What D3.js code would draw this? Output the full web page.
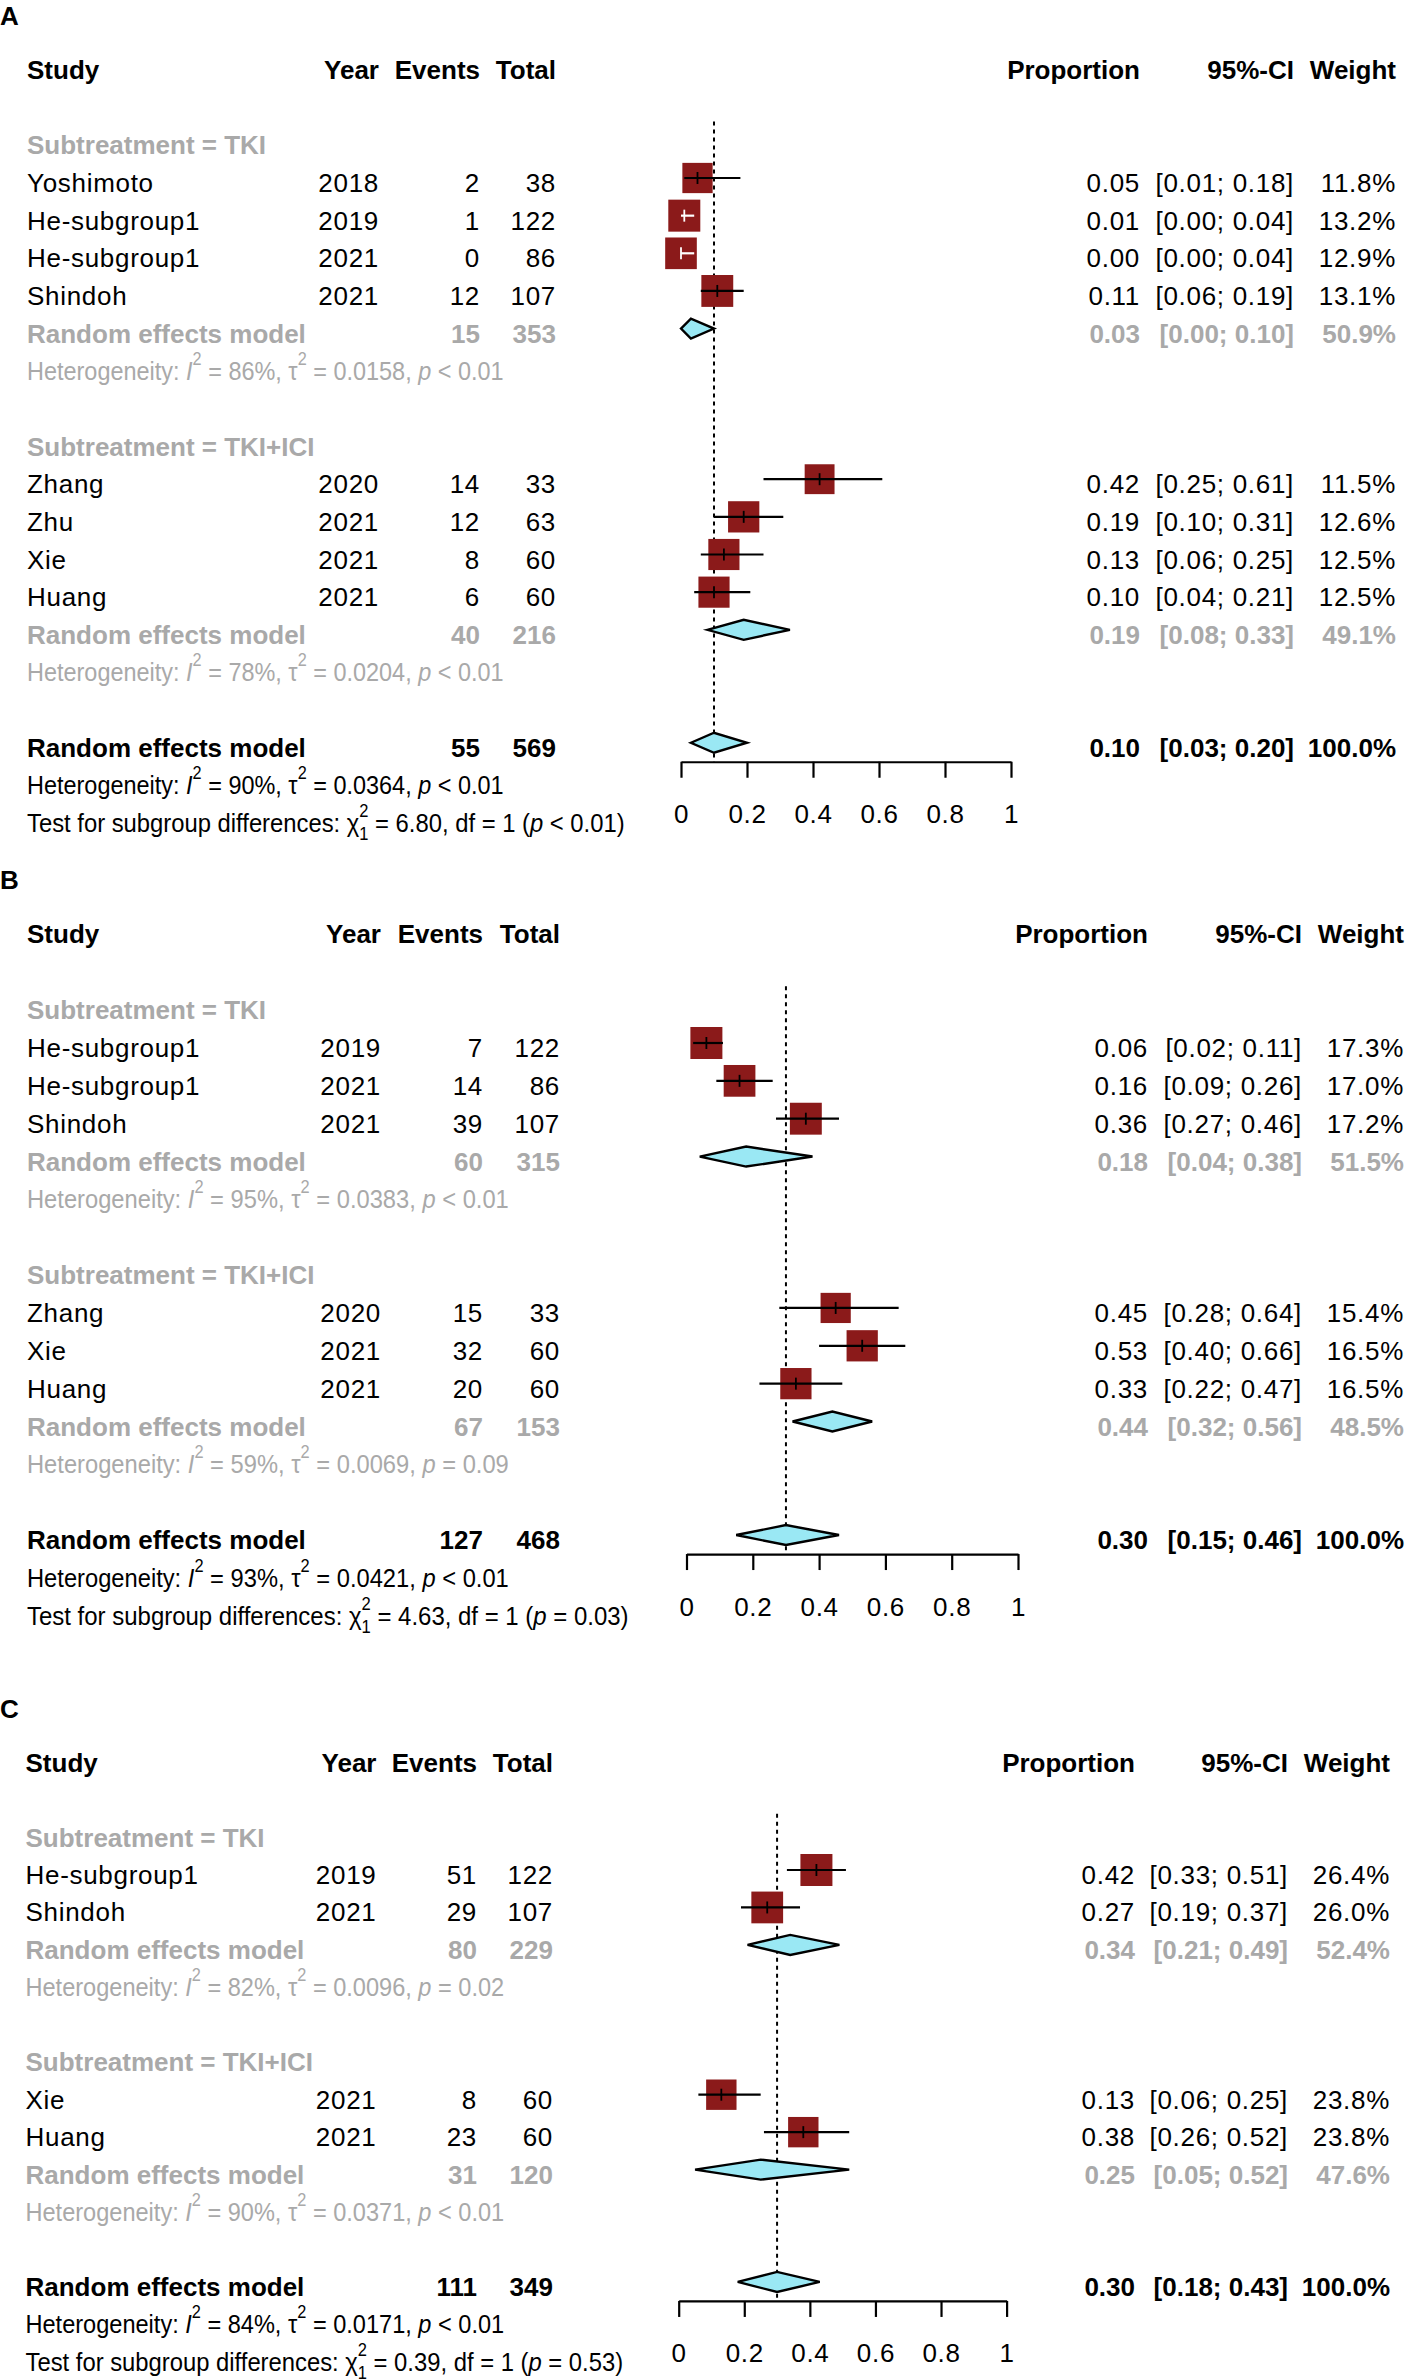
<!DOCTYPE html>
<html>
<head>
<meta charset="utf-8">
<script src="https://cdn.jsdelivr.net/npm/d3@7"></script>
<style>
  body { margin: 0; background: #fff; }
  svg text { font-family: "Liberation Sans", Arial, Helvetica, sans-serif; font-size: 26px; }
</style>
</head>
<body>
<div id="forest"></div>
<script>
/*--- datos panel A ---*/
let studiesA = ["Yoshimoto", "He-subgroup1", "He-subgroup1", "Shindoh", "Zhang", "Zhu", "Xie", "Huang"];
let groupA   = [0, 0, 0, 0, 1, 1, 1, 1];
let yearsA   = [2018, 2019, 2021, 2021, 2020, 2021, 2021, 2021];
let eventsA  = [2, 1, 0, 12, 14, 12, 8, 6];
let totalsA  = [38, 122, 86, 107, 33, 63, 60, 60];
let propA    = [0.05, 0.01, 0.00, 0.11, 0.42, 0.19, 0.13, 0.10];
let lowA     = [0.01, 0.00, 0.00, 0.06, 0.25, 0.10, 0.06, 0.04];
let highA    = [0.18, 0.04, 0.04, 0.19, 0.61, 0.31, 0.25, 0.21];
let weightA  = [11.8, 13.2, 12.9, 13.1, 11.5, 12.6, 12.5, 12.5];
let subEventsA = [15, 40];
let subTotalsA = [353, 216];
let subPropA   = [0.03, 0.19];
let subLowA    = [0.00, 0.08];
let subHighA   = [0.10, 0.33];
let subWeightA = [50.9, 49.1];
let subHetA    = [["86", "0.0158", "<", "0.01"], ["78", "0.0204", "<", "0.01"]];
let overallA   = [55, 569, 0.10, 0.03, 0.20, 100.0];
let overallHetA = ["90", "0.0364", "<", "0.01"];
let testA      = ["6.80", "1", "<", "0.01"];

/*--- datos panel B ---*/
let studiesB = ["He-subgroup1", "He-subgroup1", "Shindoh", "Zhang", "Xie", "Huang"];
let groupB   = [0, 0, 0, 1, 1, 1];
let yearsB   = [2019, 2021, 2021, 2020, 2021, 2021];
let eventsB  = [7, 14, 39, 15, 32, 20];
let totalsB  = [122, 86, 107, 33, 60, 60];
let propB    = [0.06, 0.16, 0.36, 0.45, 0.53, 0.33];
let lowB     = [0.02, 0.09, 0.27, 0.28, 0.40, 0.22];
let highB    = [0.11, 0.26, 0.46, 0.64, 0.66, 0.47];
let weightB  = [17.3, 17.0, 17.2, 15.4, 16.5, 16.5];
let subEventsB = [60, 67];
let subTotalsB = [315, 153];
let subPropB   = [0.18, 0.44];
let subLowB    = [0.04, 0.32];
let subHighB   = [0.38, 0.56];
let subWeightB = [51.5, 48.5];
let subHetB    = [["95", "0.0383", "<", "0.01"], ["59", "0.0069", "=", "0.09"]];
let overallB   = [127, 468, 0.30, 0.15, 0.46, 100.0];
let overallHetB = ["93", "0.0421", "<", "0.01"];
let testB      = ["4.63", "1", "=", "0.03"];

/*--- datos panel C ---*/
let studiesC = ["He-subgroup1", "Shindoh", "Xie", "Huang"];
let groupC   = [0, 0, 1, 1];
let yearsC   = [2019, 2021, 2021, 2021];
let eventsC  = [51, 29, 8, 23];
let totalsC  = [122, 107, 60, 60];
let propC    = [0.42, 0.27, 0.13, 0.38];
let lowC     = [0.33, 0.19, 0.06, 0.26];
let highC    = [0.51, 0.37, 0.25, 0.52];
let weightC  = [26.4, 26.0, 23.8, 23.8];
let subEventsC = [80, 31];
let subTotalsC = [229, 120];
let subPropC   = [0.34, 0.25];
let subLowC    = [0.21, 0.05];
let subHighC   = [0.49, 0.52];
let subWeightC = [52.4, 47.6];
let subHetC    = [["82", "0.0096", "=", "0.02"], ["90", "0.0371", "<", "0.01"]];
let overallC   = [111, 349, 0.30, 0.18, 0.43, 100.0];
let overallHetC = ["84", "0.0171", "<", "0.01"];
let testC      = ["0.39", "1", "=", "0.53"];

let subLabels  = ["TKI", "TKI+ICI"];
let tickValues = [0, 0.2, 0.4, 0.6, 0.8, 1];

/*--- Variables tecnicas ---*/
let width = 1407, height = 2379;
let gris = "#a9a9a9";
let rojo = "#8b1a1a";
let cian = "#9ae8f4";
let fmt2 = d3.format(".2f");
let fmt1 = d3.format(".1f");

// cada panel: datos + columnas (la primera fila de estudio es k = 3)
let panels = [
  { label: "A", studies: studiesA, group: groupA, years: yearsA, events: eventsA, totals: totalsA,
    prop: propA, low: lowA, high: highA, weight: weightA,
    sEv: subEventsA, sTot: subTotalsA, sProp: subPropA, sLow: subLowA, sHigh: subHighA, sW: subWeightA, sHet: subHetA,
    all: overallA, allHet: overallHetA, test: testA,
    y3: 178, rowH: 37.65, hetW: 477, testW: 607,
    col: { study: 27, year: 379, events: 480, total: 556, prop: 1140, ci: 1294, weight: 1396, ax0: 681, ax1: 1011 } },
  { label: "B", studies: studiesB, group: groupB, years: yearsB, events: eventsB, totals: totalsB,
    prop: propB, low: lowB, high: highB, weight: weightB,
    sEv: subEventsB, sTot: subTotalsB, sProp: subPropB, sLow: subLowB, sHigh: subHighB, sW: subWeightB, sHet: subHetB,
    all: overallB, allHet: overallHetB, test: testB,
    y3: 1043, rowH: 37.85, hetW: 482, testW: 611,
    col: { study: 27, year: 381, events: 483, total: 560, prop: 1148, ci: 1302, weight: 1404, ax0: 686.5, ax1: 1018 } },
  { label: "C", studies: studiesC, group: groupC, years: yearsC, events: eventsC, totals: totalsC,
    prop: propC, low: lowC, high: highC, weight: weightC,
    sEv: subEventsC, sTot: subTotalsC, sProp: subPropC, sLow: subLowC, sHigh: subHighC, sW: subWeightC, sHet: subHetC,
    all: overallC, allHet: overallHetC, test: testC,
    y3: 1870, rowH: 37.45, hetW: 479, testW: 607,
    col: { study: 25.5, year: 376.5, events: 477, total: 553, prop: 1135, ci: 1288, weight: 1390, ax0: 678.7, ax1: 1006.6 } }
];

let svg = d3.select("#forest").append("svg")
  .attr("width", width).attr("height", height);
svg.append("rect").attr("width", width).attr("height", height).attr("fill", "#fff");

/*--- funciones de texto ---*/
function txt(g, x, y, s, anchor, color, bold) {
  return g.append("text")
    .attr("x", x).attr("y", y)
    .attr("text-anchor", anchor || "start")
    .attr("fill", color || "#000")
    .attr("font-weight", bold ? "bold" : "normal")
    .attr("letter-spacing", bold ? null : "0.7px")
    .text(s);
}

// estrecha la linea (como en la figura) sin apretar las letras
function ajustar(t, x, y, objetivo) {
  let natural = t.node().getComputedTextLength();
  let s = objetivo / natural;
  t.attr("transform", "translate(" + x + "," + y + ") scale(" + s.toFixed(4) + ",1)");
}

function hetLine(g, x, y, h, color, objetivo) {
  let t = g.append("text").attr("x", 0).attr("y", 0).attr("fill", color);
  t.append("tspan").text("Heterogeneity: ");
  t.append("tspan").attr("font-style", "italic").text("I");
  t.append("tspan").attr("font-size", 18).attr("dy", -15).text("2");
  t.append("tspan").attr("dy", 15).text(" = " + h[0] + "%, \u03c4");
  t.append("tspan").attr("font-size", 18).attr("dy", -15).text("2");
  t.append("tspan").attr("dy", 15).text(" = " + h[1] + ", ");
  t.append("tspan").attr("font-style", "italic").text("p");
  t.append("tspan").text(" " + h[2] + " " + h[3]);
  ajustar(t, x, y, objetivo);
  return t;
}

function testLine(g, x, y, tt, objetivo) {
  let t = g.append("text").attr("x", 0).attr("y", 0).attr("fill", "#000");
  t.append("tspan").text("Test for subgroup differences: \u03c7");
  t.append("tspan").attr("font-size", 18).attr("dy", -15).text("2");
  t.append("tspan").attr("font-size", 18).attr("dx", -10).attr("dy", 23).text("1");
  t.append("tspan").attr("dy", -8).text(" = " + tt[0] + ", df = " + tt[1] + " (");
  t.append("tspan").attr("font-style", "italic").text("p");
  t.append("tspan").text(" " + tt[2] + " " + tt[3] + ")");
  ajustar(t, x, y, objetivo);
  return t;
}

/*--- dibujo de cada panel ---*/
panels.forEach(function (P) {
  let g = svg.append("g").attr("class", "panel-" + P.label);
  let c = P.col;
  let fila = d3.scaleLinear().domain([3, 4]).range([P.y3, P.y3 + P.rowH]);
  let x = d3.scaleLinear().domain([0, 1]).range([c.ax0, c.ax1]);
  let base = 14; // de centro de marca a linea base del texto
  let wmax = d3.max(P.weight);

  // letra y encabezado
  txt(g, 0, fila(0) - 40, P.label, "start", "#000", true).attr("font-size", 27);
  txt(g, c.study, fila(0) + base, "Study", "start", "#000", true);
  txt(g, c.year, fila(0) + base, "Year", "end", "#000", true);
  txt(g, c.events, fila(0) + base, "Events", "end", "#000", true);
  txt(g, c.total, fila(0) + base, "Total", "end", "#000", true);
  txt(g, c.prop, fila(0) + base, "Proportion", "end", "#000", true);
  txt(g, c.ci, fila(0) + base, "95%-CI", "end", "#000", true);
  txt(g, c.weight, fila(0) + base, "Weight", "end", "#000", true);

  // asignar filas
  let k = 2;
  let studyRows = [], subRows = [], hetRows = [], labelRows = [];
  [0, 1].forEach(function (s) {
    labelRows.push(k); k++;
    P.studies.forEach(function (d, i) {
      if (P.group[i] === s) { studyRows[i] = k; k++; }
    });
    subRows.push(k); k++;
    hetRows.push(k); k++;
    k++;
  });
  let allRow = k, allHetRow = k + 1, testRow = k + 2;
  let axisY = fila(allRow) + 19;

  // linea punteada del efecto global
  g.append("line")
    .attr("x1", x(P.all[2])).attr("x2", x(P.all[2]))
    .attr("y1", fila(1.5)).attr("y2", axisY)
    .attr("stroke", "#000").attr("stroke-width", 2)
    .attr("stroke-dasharray", "4,4");

  // etiquetas de subgrupo, modelos y heterogeneidad
  [0, 1].forEach(function (s) {
    txt(g, c.study, fila(labelRows[s]) + base, "Subtreatment = " + subLabels[s], "start", gris, true);
    let yy = fila(subRows[s]);
    txt(g, c.study, yy + base, "Random effects model", "start", gris, true);
    txt(g, c.events, yy + base, P.sEv[s], "end", gris, true);
    txt(g, c.total, yy + base, P.sTot[s], "end", gris, true);
    txt(g, c.prop, yy + base, fmt2(P.sProp[s]), "end", gris, true);
    txt(g, c.ci, yy + base, "[" + fmt2(P.sLow[s]) + "; " + fmt2(P.sHigh[s]) + "]", "end", gris, true);
    txt(g, c.weight, yy + base, fmt1(P.sW[s]) + "%", "end", gris, true);
    hetLine(g, c.study, fila(hetRows[s]) + base, P.sHet[s], gris, P.hetW);
    g.append("path")
      .attr("d", "M" + x(P.sLow[s]) + "," + yy + "L" + x(P.sProp[s]) + "," + (yy - 10) +
                 "L" + x(P.sHigh[s]) + "," + yy + "L" + x(P.sProp[s]) + "," + (yy + 10) + "Z")
      .attr("fill", cian).attr("stroke", "#000").attr("stroke-width", 2.4);
  });

  // estudios
  P.studies.forEach(function (d, i) {
    let yy = fila(studyRows[i]);
    txt(g, c.study, yy + base, d);
    txt(g, c.year, yy + base, P.years[i], "end");
    txt(g, c.events, yy + base, P.events[i], "end");
    txt(g, c.total, yy + base, P.totals[i], "end");
    txt(g, c.prop, yy + base, fmt2(P.prop[i]), "end");
    txt(g, c.ci, yy + base, "[" + fmt2(P.low[i]) + "; " + fmt2(P.high[i]) + "]", "end");
    txt(g, c.weight, yy + base, fmt1(P.weight[i]) + "%", "end");

    let lado = 32 * Math.sqrt(P.weight[i] / wmax);
    let cx = x(P.prop[i]);
    g.append("rect")
      .attr("x", cx - lado / 2).attr("y", yy - lado / 2)
      .attr("width", lado).attr("height", lado)
      .attr("fill", rojo);
    let dentro = x(P.low[i]) >= cx - lado / 2 && x(P.high[i]) <= cx + lado / 2;
    let colLinea = dentro ? "#fff" : "#000";
    g.append("line")
      .attr("x1", x(P.low[i])).attr("x2", x(P.high[i]))
      .attr("y1", yy).attr("y2", yy)
      .attr("stroke", colLinea).attr("stroke-width", 2.2);
    g.append("line")
      .attr("x1", cx).attr("x2", cx)
      .attr("y1", yy - 6).attr("y2", yy + 6)
      .attr("stroke", colLinea).attr("stroke-width", 1.8);
  });

  // modelo global
  let ya = fila(allRow);
  txt(g, c.study, ya + base, "Random effects model", "start", "#000", true);
  txt(g, c.events, ya + base, P.all[0], "end", "#000", true);
  txt(g, c.total, ya + base, P.all[1], "end", "#000", true);
  txt(g, c.prop, ya + base, fmt2(P.all[2]), "end", "#000", true);
  txt(g, c.ci, ya + base, "[" + fmt2(P.all[3]) + "; " + fmt2(P.all[4]) + "]", "end", "#000", true);
  txt(g, c.weight, ya + base, fmt1(P.all[5]) + "%", "end", "#000", true);
  g.append("path")
    .attr("d", "M" + x(P.all[3]) + "," + ya + "L" + x(P.all[2]) + "," + (ya - 10) +
               "L" + x(P.all[4]) + "," + ya + "L" + x(P.all[2]) + "," + (ya + 10) + "Z")
    .attr("fill", cian).attr("stroke", "#000").attr("stroke-width", 2.4);
  hetLine(g, c.study, fila(allHetRow) + base, P.allHet, "#000", P.hetW);
  testLine(g, c.study, fila(testRow) + base, P.test, P.testW);

  // eje
  let eje = d3.axisBottom(x)
    .tickValues(tickValues)
    .tickFormat(d => d === 0 ? "0" : d === 1 ? "1" : d3.format(".1f")(d))
    .tickSize(16).tickSizeOuter(0).tickPadding(27);
  let ga = g.append("g").attr("transform", "translate(0," + axisY + ")").call(eje);
  ga.select(".domain").attr("stroke-width", 2.2);
  ga.selectAll(".tick line").attr("stroke-width", 2.2);
  ga.selectAll(".tick text").attr("font-size", 26).attr("fill", "#000")
    .attr("letter-spacing", "0.7px")
    .attr("font-family", "'Liberation Sans', Arial, sans-serif");
});
</script>
</body>
</html>
